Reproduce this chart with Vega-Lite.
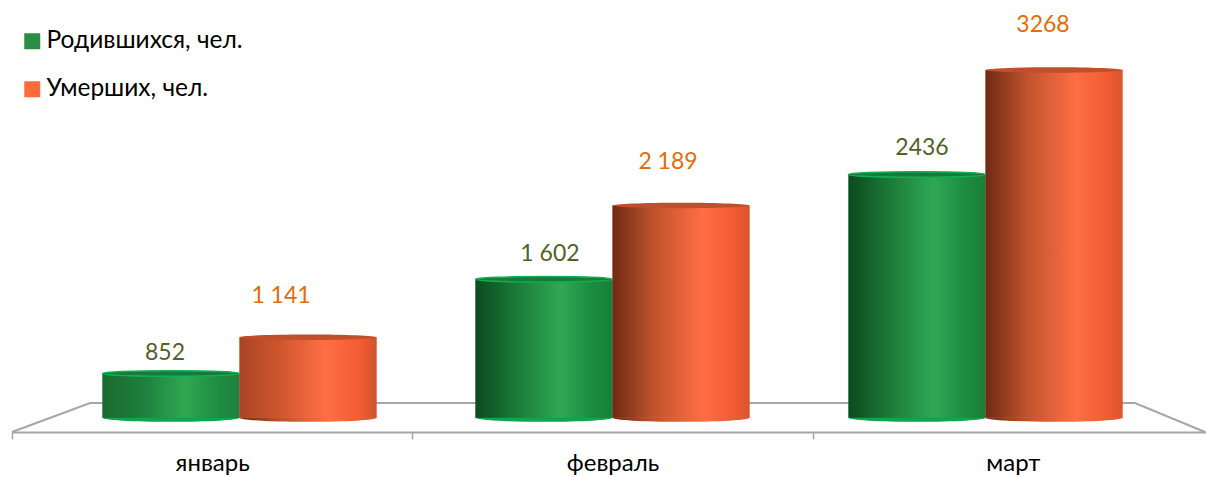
{
"$schema":"https://vega.github.io/schema/vega-lite/v6.json",
"width":1194,"height":432,"autosize":{"type":"none"},
"padding":{"left":12,"top":0,"right":0,"bottom":45},
"background":"white",
"config":{"view":{"stroke":null},"font":"Lato","text":{"font":"Lato"}},
"datasets":{
"births":[
{"month":"январь","series":"Родившихся, чел.","value":852,"label":"852"},
{"month":"февраль","series":"Родившихся, чел.","value":1602,"label":"1 602"},
{"month":"март","series":"Родившихся, чел.","value":2436,"label":"2436"},
{"month":"январь","series":"Умерших, чел.","value":1141,"label":"1 141"},
{"month":"февраль","series":"Умерших, чел.","value":2189,"label":"2 189"},
{"month":"март","series":"Умерших, чел.","value":3268,"label":"3268"}
],
"floor":[
{"depth":0,"level":386,"order":1},
{"depth":0.195,"level":617,"order":2},
{"depth":2.805,"level":617,"order":3},
{"depth":2.98,"level":386,"order":4}
]},
"layer":[
{"data":{"name":"floor"},"mark":{"type":"line","color":"#a6a6a6","strokeWidth":2},
"encoding":{"x":{"field":"depth","type":"quantitative","axis":null,"scale":{"domain":[0,3],"range":[0,1201]}},
"y":{"field":"level","type":"quantitative","axis":null,"scale":{"domain":[386,3826],"zero":false,"nice":false}},"order":{"field":"order"}}},
{"data":{"name":"births"},"mark":{"type":"rule","opacity":0},
"encoding":{"x":{"field":"month","type":"nominal","sort":["январь","февраль","март"],"title":null,
"scale":{"domain":["январь","февраль","март"],"range":[0,1201],"paddingInner":0,"paddingOuter":0},
"axis":{"domainColor":"#a6a6a6","domainWidth":2,"tickColor":"#a6a6a6","tickWidth":1.5,"tickSize":7,"tickBand":"extent","labelAngle":0,"labelFontSize":24,"labelColor":"#000000","labelPadding":12,"labelFont":"Lato","grid":false}}}},
{"data":{"name":"births"},
"encoding":{
"x":{"field":"month","type":"nominal","axis":null,"sort":["январь","февраль","март"],"scale":{"domain":["январь","февраль","март"],"range":[90.5,1110.5],"paddingInner":0.2654,"paddingOuter":0}},
"xOffset":{"field":"series","type":"nominal","sort":["Родившихся, чел.","Умерших, чел."],"scale":{"domain":["Родившихся, чел.","Умерших, чел."],"paddingInner":0,"paddingOuter":0}},
"y":{"field":"value","type":"quantitative","axis":null,"stack":null,"scale":{"domain":[386,3826],"zero":false,"nice":false}}
},
"layer":[
{"transform":[{"filter":"datum.series==='Родившихся, чел.'"}],"mark":{"type":"point","filled":true,"opacity":1,"size":18769,"shape":"M-1,0A1,0.06,0,1,1,1,0A1,0.06,0,1,1,-1,0Z","fill":"#0fa54e","stroke":null},
"encoding":{"y":{"datum":500}}},
{"transform":[{"filter":"datum.series==='Умерших, чел.'"}],"mark":{"type":"point","filled":true,"opacity":1,"size":18769,"shape":"M-1,0A1,0.06,0,1,1,1,0A1,0.06,0,1,1,-1,0Z","fill":{"gradient":"linear","x1":0,"x2":1,"y1":0,"y2":0,"stops":[{"offset":0,"color":"#6e2a14"},{"offset":0.3,"color":"#c0522c"},{"offset":0.66,"color":"#ff6e45"},{"offset":1,"color":"#d9552e"}]},"stroke":null},
"encoding":{"y":{"datum":500}}},
{"mark":{"type":"bar"},
"encoding":{"y2":{"datum":500},"color":{"field":"series","type":"nominal","title":null,
"scale":{"domain":["Родившихся, чел.","Умерших, чел."],"range":["#2a8c45","#ff6a3c"]},
"legend":{"orient":"none","legendX":11,"legendY":29,"symbolType":"square","symbolSize":256,"labelFontSize":24.5,"labelColor":"#000000","labelFont":"Lato","labelOffset":2,"labelLimit":400,"rowPadding":23,"padding":0,"symbolOpacity":1,"symbolOffset":-3}}}},
{"transform":[{"filter":"datum.series==='Родившихся, чел.' && datum.month!=='январь'"}],"mark":{"type":"bar","fill":{"gradient":"linear","x1":0,"x2":1,"y1":0,"y2":0,"stops":[{"offset":0,"color":"#0c4a20"},{"offset":0.3,"color":"#1b7a38"},{"offset":0.62,"color":"#2fa854"},{"offset":0.85,"color":"#1c8c40"},{"offset":1,"color":"#1a7f3a"}]}},
"encoding":{"y2":{"datum":500}}},
{"transform":[{"filter":"datum.series==='Родившихся, чел.' && datum.month==='январь'"}],"mark":{"type":"bar","fill":{"gradient":"linear","x1":0,"x2":1,"y1":0,"y2":0,"stops":[{"offset":0,"color":"#1a6a30"},{"offset":0.3,"color":"#1e7f3c"},{"offset":0.6,"color":"#2ea852"},{"offset":0.85,"color":"#1f8c42"},{"offset":1,"color":"#1e8040"}]}},
"encoding":{"y2":{"datum":500}}},
{"transform":[{"filter":"datum.series==='Умерших, чел.' && datum.month!=='январь'"}],"mark":{"type":"bar","fill":{"gradient":"linear","x1":0,"x2":1,"y1":0,"y2":0,"stops":[{"offset":0,"color":"#6e2a14"},{"offset":0.3,"color":"#c0522c"},{"offset":0.66,"color":"#ff6e45"},{"offset":0.88,"color":"#f25c33"},{"offset":1,"color":"#d9552e"}]}},
"encoding":{"y2":{"datum":500}}},
{"transform":[{"filter":"datum.series==='Умерших, чел.' && datum.month==='январь'"}],"mark":{"type":"bar","fill":{"gradient":"linear","x1":0,"x2":1,"y1":0,"y2":0,"stops":[{"offset":0,"color":"#a84525"},{"offset":0.3,"color":"#d0562e"},{"offset":0.62,"color":"#ff6e45"},{"offset":0.88,"color":"#f25c33"},{"offset":1,"color":"#cf542e"}]}},
"encoding":{"y2":{"datum":500}}},
{"transform":[{"filter":"datum.series==='Родившихся, чел.'"}],"mark":{"type":"point","filled":true,"opacity":1,"size":18769,"shape":"M-1,0A1,0.04,0,1,1,1,0A1,0.04,0,1,1,-1,0Z","fill":"#167a3a","stroke":"#0fb050","strokeWidth":1.5}},
{"transform":[{"filter":"datum.series==='Умерших, чел.'"}],"mark":{"type":"point","filled":true,"opacity":1,"size":18769,"shape":"M-1,0A1,0.04,0,1,1,1,0A1,0.04,0,1,1,-1,0Z","fill":"#c04f2b","stroke":null}},
{"transform":[{"filter":"datum.label==='852'"}],"mark":{"type":"text","fontSize":23,"color":"#4f6228","dx":-6,"dy":-20,"baseline":"middle"},"encoding":{"text":{"field":"label"}}},
{"transform":[{"filter":"datum.label==='1 602'"}],"mark":{"type":"text","fontSize":23,"color":"#4f6228","dx":6,"dy":-25,"baseline":"middle"},"encoding":{"text":{"field":"label"}}},
{"transform":[{"filter":"datum.label==='2436'"}],"mark":{"type":"text","fontSize":23,"color":"#4f6228","dx":5,"dy":-27,"baseline":"middle"},"encoding":{"text":{"field":"label"}}},
{"transform":[{"filter":"datum.label==='1 141'"}],"mark":{"type":"text","fontSize":23,"color":"#e36c09","dx":-27,"dy":-41,"baseline":"middle"},"encoding":{"text":{"field":"label"}}},
{"transform":[{"filter":"datum.label==='2 189'"}],"mark":{"type":"text","fontSize":23,"color":"#e36c09","dx":-13,"dy":-44,"baseline":"middle"},"encoding":{"text":{"field":"label"}}},
{"transform":[{"filter":"datum.label==='3268'"}],"mark":{"type":"text","fontSize":23,"color":"#e36c09","dx":-11,"dy":-45,"baseline":"middle"},"encoding":{"text":{"field":"label"}}}
],
"resolve":{"scale":{"x":"shared"}}
}
],
"resolve":{"scale":{"x":"independent"},"axis":{"x":"independent"}}
}
